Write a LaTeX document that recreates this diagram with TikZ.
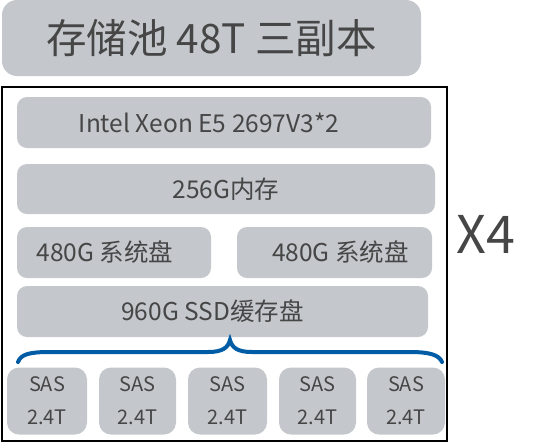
\documentclass[tikz,border=0pt]{standalone}
\usepackage{fontspec}
\setmainfont{Noto Sans CJK SC}
\usepackage{tikz}
\usetikzlibrary{positioning}
\definecolor{boxgray}{RGB}{196,199,204}
\definecolor{txtgray}{RGB}{70,70,70}
\definecolor{braceblue}{RGB}{0,92,164}

\begin{document}
\begin{tikzpicture}[x=1pt, y=-1pt,
  box/.style={rectangle, rounded corners=10pt, fill=boxgray, text=txtgray, inner sep=0pt, font=\fontsize{24.5}{28}\selectfont},
  disk/.style={box, rounded corners=12pt, minimum height=67pt, align=center, font=\fontsize{20}{33}\selectfont}]
\useasboundingbox (0,0) rectangle (545,445);

\node (pool) [box, rounded corners=15pt, minimum width=419pt, minimum height=76pt, font=\fontsize{40.5}{46}\selectfont] at (211.5,38) {存储池 48T 三副本};
\node (frame) [draw, line width=2pt, minimum width=445pt, minimum height=354pt, inner sep=0pt] at (224.5,264) {};

\node (cpu) [box, minimum width=414pt, minimum height=51pt] at (224,122.5) {\hspace*{-30pt}Intel Xeon E5 2697V3*2};
\node (mem) [box, minimum width=418pt, minimum height=50pt] at (226,189) {256G内存};
\node (sysa) [box, minimum width=194pt, minimum height=51pt] at (114,252.5) {\hspace*{-18pt}480G 系统盘};
\node (sysb) [box, minimum width=195pt, minimum height=51pt] at (334.5,252.5) {\hspace*{12pt}480G 系统盘};
\node (ssd) [box, minimum width=411pt, minimum height=51pt] at (222.5,311.5) {\hspace*{-20pt}960G SSD缓存盘};

\node (sas1) [disk, minimum width=80pt] at (47,401) {SAS\\2.4T};
\node (sas2) [disk, minimum width=77pt] at (137.5,401) {SAS\\2.4T};
\node (sas3) [disk, minimum width=79pt] at (227.5,401) {SAS\\2.4T};
\node (sas4) [disk, minimum width=77pt] at (317.5,401) {SAS\\2.4T};
\node (sas5) [disk, minimum width=78pt] at (406,401) {SAS\\2.4T};

\node (times) [text=txtgray, font=\fontsize{52}{60}\selectfont, inner sep=0pt] at (486,234) {X4};

% brace from the ssd cache down to the disks
\draw[braceblue, line width=4pt, line cap=round]
  (18,362) .. controls (21,354) and (30,352) .. (50,352) -- (208,352)
  .. controls (222,352) and (228,348) .. (230,340)
  .. controls (232,348) and (238,352) .. (252,352) -- (410,352)
  .. controls (430,352) and (439,355) .. (442,362);
\end{tikzpicture}
\end{document}
